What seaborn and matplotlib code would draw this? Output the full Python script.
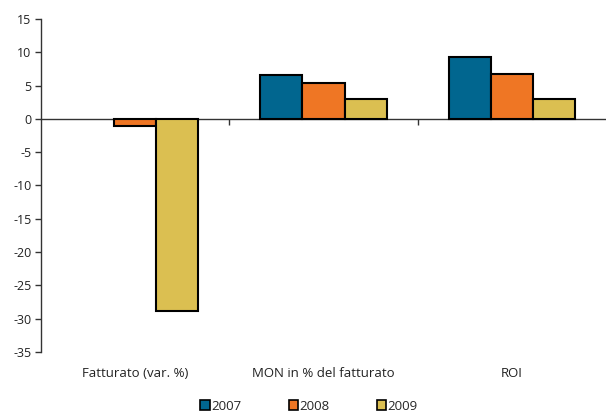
import matplotlib
matplotlib.use("Agg")
import matplotlib.pyplot as plt
import matplotlib.transforms as mtransforms
from matplotlib.patches import Patch
import numpy as np
import pandas as pd
import seaborn as sns

categories = ["Fatturato (var. %)", "MON in % del fatturato", "ROI"]
years = ["2007", "2008", "2009"]
v2007 = [np.nan, 6.6, 9.35]
v2008 = [-1.0, 5.45, 6.7]
v2009 = [-28.8, 3.05, 3.05]
colors = ["#01668f", "#ef7624", "#dbbf51"]

rows = []
for y, vals in zip(years, [v2007, v2008, v2009]):
    for c, v in zip(categories, vals):
        rows.append({"cat": c, "year": y, "val": v})
df = pd.DataFrame(rows)

sns.set_style("white")
plt.rcParams["font.family"] = ["Open Sans", "DejaVu Sans"]
plt.rcParams["axes.unicode_minus"] = False

W, H = 606, 411
fig = plt.figure(figsize=(W/100, H/100), dpi=100)
ax = fig.add_axes([41/W, 59/H, 1 - 41/W, (352-19)/H])

sns.barplot(data=df, x="cat", y="val", hue="year", palette=colors,
            saturation=1, width=0.67, edgecolor="black", linewidth=1.5, ax=ax,
            errorbar=None, legend=False)

ax.set_ylim(-35, 15)
ax.set_xlim(-0.5, 2.5)
ax.set_yticks(range(-35, 16, 5))
ax.set_xlabel("")
ax.set_ylabel("")

for s in ["top", "right"]:
    ax.spines[s].set_visible(False)
ax.spines["left"].set_color("#333333")
ax.spines["left"].set_linewidth(1.0)
ax.spines["bottom"].set_position(("data", 0))
ax.spines["bottom"].set_color("#333333")
ax.spines["bottom"].set_linewidth(1.0)
ax.spines["bottom"].set_zorder(0.5)

ax.tick_params(axis="y", direction="out", length=4, width=1, color="#333333",
               labelsize=9, labelcolor="#222222", left=True, pad=3)
ax.set_xticks([0, 1, 2])
ax.set_xticklabels([])
ax.tick_params(axis="x", which="major", length=0)
ax.set_xticks([0.5, 1.5], minor=True)
ax.tick_params(axis="x", which="minor", direction="out", length=4, width=1,
               color="#333333", bottom=True)

trans = mtransforms.blended_transform_factory(ax.transData, fig.transFigure)
for i, c in enumerate(categories):
    ax.text(i, 1 - 373/H, c, transform=trans, ha="center", va="center",
            fontsize=9.5, color="#222222")

handles = [Patch(facecolor=col, edgecolor="black", linewidth=1.2) for col in colors]
fig.legend(handles, years, loc="center", bbox_to_anchor=(309/W, 5/H),
           ncol=3, frameon=False, fontsize=9.5, handlelength=0.7, handleheight=0.7,
           handletextpad=0.1, columnspacing=3.6, borderaxespad=0)

fig.savefig("out.png", dpi=100)
